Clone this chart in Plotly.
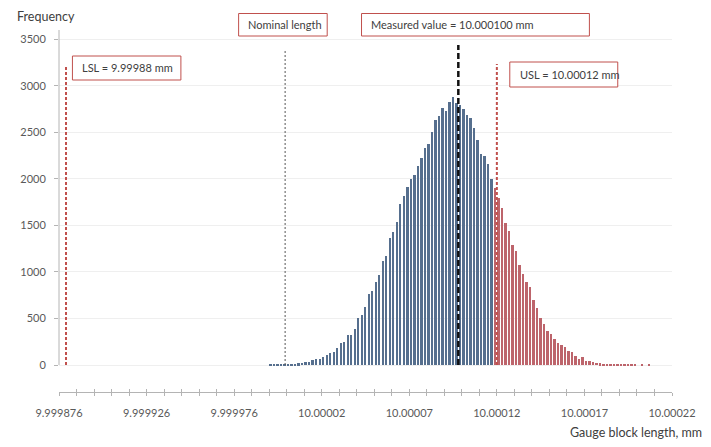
import plotly.graph_objects as go

# ---------------- data ----------------
FIRST_BIN_CENTER = 9.999997      # centre of the first (leftmost) histogram bin, mm
BIN_WIDTH = 0.000002             # histogram bin width, mm
frequencies = [
    4, 4, 5, 5, 8, 11, 12, 14, 18, 25,
    32, 36, 50, 61, 70, 82, 104, 130, 140, 179,
    240, 247, 320, 319, 387, 501, 533, 627, 759, 798,
    895, 962, 1121, 1175, 1361, 1429, 1537, 1733, 1816, 1909,
    2003, 2042, 2138, 2228, 2335, 2371, 2500, 2633, 2676, 2762,
    2733, 2823, 2885, 2812, 2794, 2748, 2686, 2655, 2552, 2420,
    2269, 2244, 2155, 2003, 1900, 1791, 1692, 1529, 1443, 1293,
    1222, 1071, 978, 892, 835, 698, 616, 509, 441, 369,
    330, 279, 240, 215, 197, 150, 140, 97, 64, 82,
    45, 39, 29, 25, 18, 14, 12, 9, 7, 6,
    5, 5, 4, 4, 4, 0, 3, 0, 3, 0,
    0, 0, 0, 0, 0, 3,
]
bin_centers = [FIRST_BIN_CENTER + i * BIN_WIDTH for i in range(len(frequencies))]

x_tick_values = [9.999876, 9.999926, 9.999976, 10.000026, 10.000076, 10.000126, 10.000176, 10.000226]
x_tick_labels = ["9.999876", "9.999926", "9.999976", "10.00002", "10.00007", "10.00012", "10.00017", "10.00022"]
y_tick_values = [0, 500, 1000, 1500, 2000, 2500, 3000, 3500]
y_tick_labels = ["0", "500", "1000", "1500", "2000", "2500", "3000", "3500"]

# reference lines: (position on axis, top of line)
LSL_POS, LSL_TOP = 9.99988, 3225
NOMINAL_POS, NOMINAL_TOP = 10.0000051, 3380
MEASURED_POS, MEASURED_TOP = 10.000104, 3440
USL_POS, USL_TOP = 10.000126, 3235

label_lsl = "LSL = 9.99988 mm"
label_nominal = "Nominal length"
label_measured = "Measured value = 10.000100 mm"
label_usl = "USL = 10.00012 mm"
x_title = "Gauge block length, mm"
y_title = "Frequency"

# ---------------- style / layout ----------------
# The page body has an 8px margin, so the figure starts at (8, 8) of the window.
PAGE_OFF = 8
W, H = 711 - PAGE_OFF, 447 - PAGE_OFF
L_PX, R_PX, T_PX, B_PX = 56, 672, 30, 392   # plot area in window pixels
FONT = "Lato, 'Open Sans', sans-serif"
BLUE = "#566F8E"
RED = "#BD646B"
BOX = "#C0504D"
TXT = "#404040"
AX = "#B4B4B4"

def px_x(px):
    return (px - L_PX) / (R_PX - L_PX)

def px_y(py):
    return (B_PX - py) / (B_PX - T_PX)

colors = [BLUE if c < USL_POS - BIN_WIDTH / 2 else RED for c in bin_centers]

fig = go.Figure()
fig.add_trace(go.Bar(
    x=bin_centers, y=frequencies, width=BIN_WIDTH * 0.55,
    marker=dict(color=colors, line=dict(width=0)),
    hoverinfo="skip", showlegend=False,
))
# dummy trace so the overlay axis (inner half of cross ticks) is drawn
fig.add_trace(go.Scatter(x=[x_tick_values[0]], y=[0], xaxis="x2", mode="markers",
                         marker=dict(opacity=0), hoverinfo="skip", showlegend=False))

minor_vals = [x_tick_values[0] + i * 0.00001 for i in range(36)]

xaxis_common = dict(
    range=[x_tick_values[0], x_tick_values[-1]],
    tickmode="array", tickvals=x_tick_values,
    showgrid=False, zeroline=False,
)
fig.update_layout(
    width=W, height=H,
    margin=dict(l=L_PX - PAGE_OFF, r=711 - R_PX, t=T_PX - PAGE_OFF, b=447 - B_PX, pad=0),
    paper_bgcolor="white", plot_bgcolor="white",
    bargap=0,
    font=dict(family=FONT, color="#595959", size=11),
    xaxis=dict(
        **xaxis_common,
        ticktext=x_tick_labels,
        showline=True, linecolor=AX, linewidth=1,
        ticks="outside", ticklen=3, tickcolor=AX, tickwidth=1,
        minor=dict(tickmode="array", tickvals=minor_vals, ticks="outside", ticklen=3, tickcolor=AX),
        ticklabelstandoff=8,
        tickfont=dict(size=11, color="#595959"),
    ),
    xaxis2=dict(
        **xaxis_common,
        overlaying="x", anchor="y", side="bottom",
        showticklabels=False, showline=False,
        ticks="inside", ticklen=3, tickcolor=AX, tickwidth=1,
        minor=dict(tickmode="array", tickvals=minor_vals, ticks="inside", ticklen=3, tickcolor=AX),
    ),
    yaxis=dict(
        range=[-290, 3600],
        tickmode="array", tickvals=y_tick_values, ticktext=y_tick_labels,
        showgrid=True, gridcolor="#EFEFEF", gridwidth=1,
        zeroline=False, showline=False,
        ticks="outside", ticklen=4, tickcolor=AX,
        ticklabelstandoff=6,
        tickfont=dict(size=11, color="#595959"),
    ),
)

# y axis line from 0 to top
fig.add_shape(type="line", xref="paper", yref="y", x0=0, x1=0, y0=0, y1=3600,
              line=dict(color=AX, width=1))

# reference lines
fig.add_shape(type="line", xref="x", yref="y", x0=LSL_POS, x1=LSL_POS, y0=0, y1=LSL_TOP,
              line=dict(color=BOX, width=2, dash="3px,2px"))
fig.add_shape(type="line", xref="x", yref="y", x0=USL_POS, x1=USL_POS, y0=0, y1=USL_TOP,
              line=dict(color=BOX, width=2, dash="3px,2px"))
fig.add_shape(type="line", xref="x", yref="y", x0=NOMINAL_POS, x1=NOMINAL_POS, y0=0, y1=NOMINAL_TOP,
              line=dict(color="#555555", width=1, dash="2px,2px"))
fig.add_shape(type="line", xref="x", yref="y", x0=MEASURED_POS, x1=MEASURED_POS, y0=0, y1=MEASURED_TOP,
              line=dict(color="#111111", width=2.5, dash="6px,3px"))

# label boxes (window-pixel rectangles) and their texts
boxes = [
    (label_lsl, 69.5, 178.5, 56, 80, 77),
    (label_nominal, 236.5, 325.5, 13.5, 36, 244),
    (label_measured, 360, 589, 13.5, 36, 368),
    (label_usl, 509, 617.5, 62, 87, 517),
]
for text, x0, x1, y0, y1, tx in boxes:
    fig.add_shape(type="rect", xref="paper", yref="paper",
                  x0=px_x(x0), x1=px_x(x1), y0=px_y(y1), y1=px_y(y0),
                  line=dict(color=BOX, width=1), fillcolor="white", layer="above")
    fig.add_annotation(xref="paper", yref="paper", x=px_x(tx), y=px_y((y0 + y1) / 2),
                       xanchor="left", yanchor="middle", text=text, showarrow=False,
                       font=dict(family=FONT, size=11, color=TXT))

# axis titles
fig.add_annotation(xref="paper", yref="paper", x=px_x(13), y=px_y(PAGE_OFF + 0.5), xanchor="left", yanchor="top",
                   borderpad=0, text=y_title, showarrow=False, font=dict(family=FONT, size=12.5, color=TXT))
fig.add_annotation(xref="paper", yref="paper", x=px_x(704), y=px_y(432), xanchor="right", yanchor="middle",
                   text=x_title, showarrow=False, font=dict(family=FONT, size=12.5, color=TXT))

fig.write_html("out.html")
